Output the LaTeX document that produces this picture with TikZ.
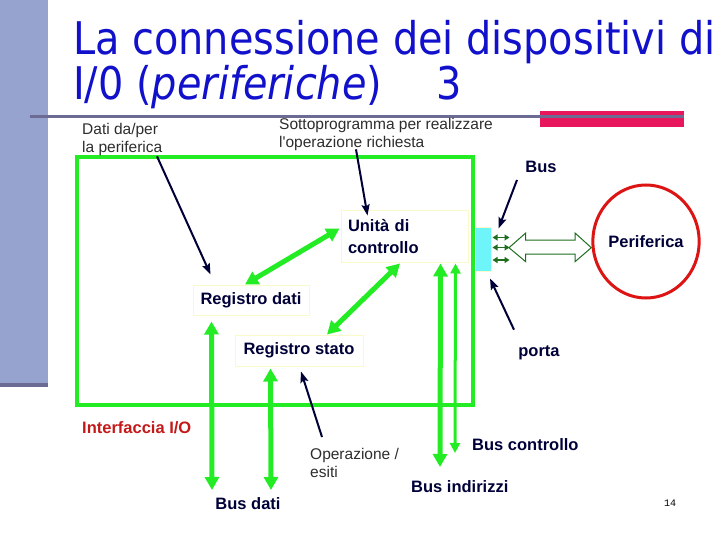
\documentclass[tikz,border=0pt]{standalone}
\usepackage{fontspec}
\setmainfont{Liberation Sans}
\newfontfamily\titlefont[FakeStretch=0.885]{DejaVu Sans}
\newfontfamily\pagenofont{Liberation Mono}
\usetikzlibrary{arrows.meta,shapes.geometric,calc}
\definecolor{barblue}{RGB}{151,163,207}
\definecolor{linegray}{RGB}{107,107,147}
\definecolor{barpink}{RGB}{232,22,92}
\definecolor{titleblue}{RGB}{17,17,204}
\definecolor{grn}{RGB}{36,236,36}
\definecolor{navy}{RGB}{0,0,56}
\definecolor{boxyellow}{RGB}{250,250,200}
\definecolor{portacyan}{RGB}{110,245,250}
\definecolor{dkgreen}{RGB}{30,110,30}
\definecolor{perired}{RGB}{220,20,20}
\definecolor{ifred}{RGB}{195,25,25}
\definecolor{thingray}{RGB}{45,45,45}
\tikzset{
  titletext/.style={anchor=base west, inner sep=0, text=titleblue, font=\titlefont\fontsize{45}{50}\selectfont},
  thintext/.style={inner sep=0, text=thingray, align=left, font=\fontsize{15.5}{18.5}\selectfont},
  boldlabel/.style={inner sep=0, text=navy, font=\bfseries\fontsize{16.5}{21.3}\selectfont},
  regbox/.style={draw=boxyellow, line width=1pt, inner sep=0, text=navy, font=\bfseries\fontsize{16.5}{21.3}\selectfont},
  gbus/.style={draw=grn, line width=5pt, {Triangle[length=13pt,width=14pt]}-{Triangle[length=13pt,width=14pt]}},
  gbusthin/.style={draw=grn, line width=3pt, {Triangle[length=10pt,width=10pt]}-{Triangle[length=10pt,width=10pt]}},
  pointer/.style={draw=navy, line width=2pt, -{Stealth[length=11pt,width=8pt,inset=2pt]}},
  smallarrow/.style={draw=dkgreen, line width=1.6pt, {Triangle[length=5pt,width=6pt]}-{Triangle[length=5pt,width=6pt]}}
}
\begin{document}
\begin{tikzpicture}[x=1pt,y=-1pt]
\useasboundingbox (0,0) rectangle (720,540);
% slide decoration
\fill[barblue] (0,0) rectangle (48,383);
\fill[linegray] (0,383) rectangle (48,387);
\fill[barpink] (540,111) rectangle (684,127);
\draw[linegray, line width=3pt] (30,117) -- (684,117);
% title
\node[titletext] (title1) at (73,55) {La connessione dei dispositivi di};
\node[titletext] (title2) at (73,100) {I/0 (\textit{periferiche})\hspace{54pt}3};
% interface frame
\node[draw=grn, line width=4.5pt, inner sep=0, minimum width=396pt, minimum height=248pt] (iface) at (275,281) {};
% boxes
\node[regbox, minimum width=127pt, minimum height=51pt, text width=113pt, align=left] (unita) at (404.5,236.5) {Unità di\\controllo};
\node[regbox, minimum width=116pt, minimum height=30pt] (regdati) at (251,300) {Registro dati};
\node[regbox, minimum width=128pt, minimum height=31pt] (regstato) at (299,350.5) {Registro stato};
\node[draw=boxyellow, fill=portacyan, line width=1pt, inner sep=0, minimum width=16pt, minimum height=43pt] (porta) at (483,249.5) {};
\node[draw=perired, line width=3pt, ellipse, inner sep=0, minimum width=98pt, minimum height=113pt, text=navy, font=\bfseries\fontsize{16.5}{20}\selectfont] (perif) at (646,241.5) {Periferica};
% labels
\node[thintext, anchor=north west] (dati) at (82,123) {Dati da/per\\la periferica};
\node[thintext, anchor=north west] (sotto) at (279,118) {Sottoprogramma per realizzare\\l\textquotesingle operazione richiesta};
\node[boldlabel] (buslab) at (541,167) {Bus};
\node[boldlabel] (portalab) at (539,353) {porta};
\node[boldlabel, text=ifred, anchor=west] (iflab) at (82,428) {Interfaccia I/O};
\node[boldlabel] (busdati) at (248,504) {Bus dati};
\node[thintext, anchor=north west] (oper) at (310,448) {Operazione /\\esiti};
\node[boldlabel, anchor=west] (busctrl) at (472,445) {Bus controllo};
\node[boldlabel, anchor=west] (busind) at (411,487) {Bus indirizzi};
\node[inner sep=0, font=\pagenofont\fontsize{10}{12}\selectfont] (pageno) at (670,503) {14};
% green internal connections
\draw[gbus] ($(regdati.north)+(-6,0)$) -- ($(unita.west)+(-1,-8)$);
\draw[gbus] ($(regstato.north)+(28,0)$) -- ($(unita.south)+(-4.5,1)$);
% buses
\coordinate (bd1) at (212,490);
\coordinate (bd2) at (271,490);
\coordinate (bi) at (440,467);
\coordinate (bc) at (455,453);
\draw[gbus] ($(regdati.south west)+(19,6)$) -- (bd1);
\draw[gbus] ($(regstato.south west)+(36,2)$) -- (bd2);
\draw[gbus] ($(unita.south east)+(-28,1)$) -- (bi);
\draw[gbusthin] ($(unita.south east)+(-13,1)$) -- (bc);
% pointers
\draw[pointer] ($(dati.south west)+(75,0)$) -- ($(regdati.north west)+(18,-10)$);
\draw[pointer] ($(sotto.south west)+(77,-2)$) -- ($(unita.north west)+(27,5)$);
\draw[pointer] ($(buslab.south)+(-24,7)$) -- ($(porta.north east)+(7,1)$);
\draw[pointer] ($(portalab.north)+(-25,-16)$) -- ($(porta.south)+(7,7)$);
\draw[pointer] ($(oper.north west)+(12,-11)$) -- ($(regstato.south)+(2,5)$);
% port lines
\draw[smallarrow] ($(porta.east)+(1,-12)$) -- ($(porta.east)+(18,-12)$);
\draw[smallarrow] ($(porta.east)+(1,-2)$) -- ($(porta.east)+(18,-2)$);
\draw[smallarrow] ($(porta.east)+(1,10.5)$) -- ($(porta.east)+(18,10.5)$);
% hollow bus arrow
\coordinate (hl) at (509,247.7);
\coordinate (hr) at (perif.west |- hl);
\draw[dkgreen, line width=1pt, fill=white]
  (hl) -- ($(hl)+(16.7,-14.7)$) -- ($(hl)+(16.7,-7.7)$) -- ($(hr)+(-16.3,-7.7)$) -- ($(hr)+(-16.3,-14.7)$)
  -- (hr) -- ($(hr)+(-16.3,14)$) -- ($(hr)+(-16.3,6.3)$) -- ($(hl)+(16.7,6.3)$) -- ($(hl)+(16.7,14)$) -- cycle;
\end{tikzpicture}
\end{document}
